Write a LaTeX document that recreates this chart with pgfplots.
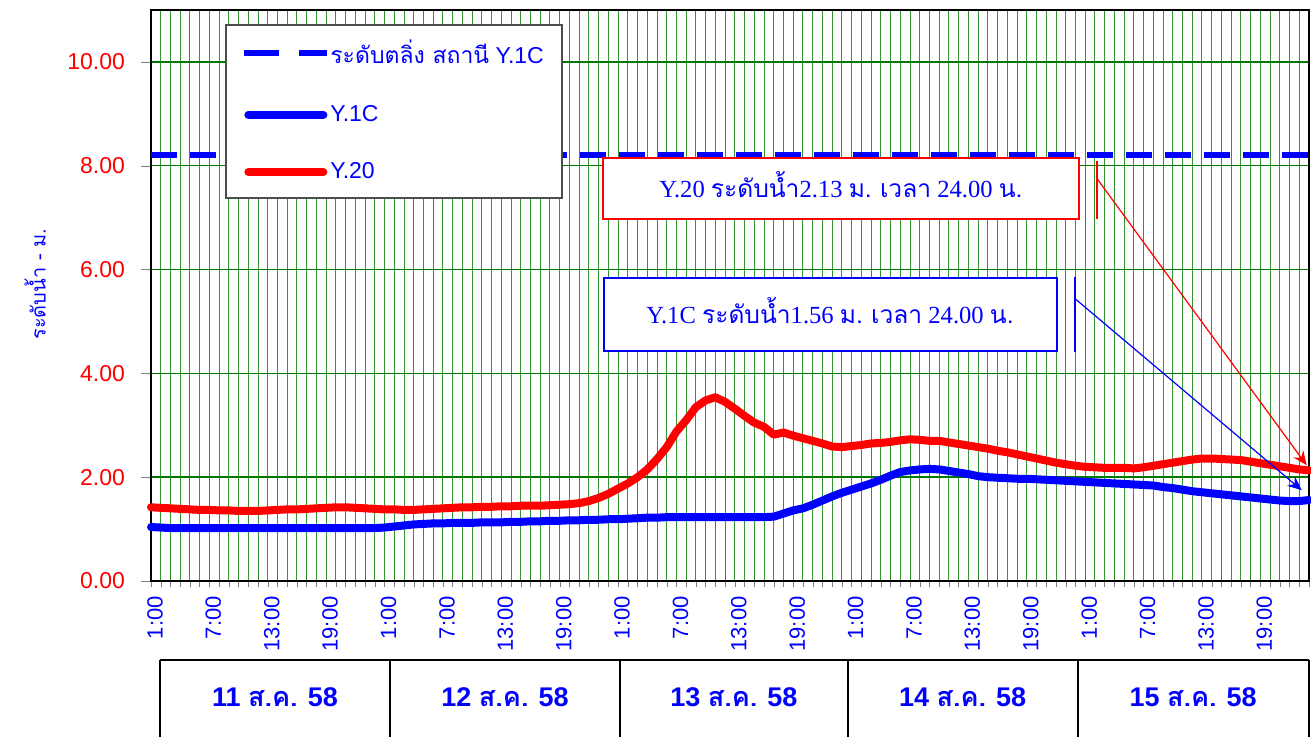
\documentclass[border=0pt]{standalone}
\usepackage{pgfplots}
\pgfplotsset{compat=1.18}
\usepackage{pgfplotstable}
\usetikzlibrary{arrows.meta}
\usepackage{fontspec}
\setmainfont{Liberation Sans}
\newfontfamily\thai[Script=Thai]{Loma}
\newfontfamily\serif{Liberation Serif}
\definecolor{gridgreen}{RGB}{50,150,50}
\definecolor{hgreen}{RGB}{0,120,0}
\definecolor{tblue}{RGB}{0,0,255}
\definecolor{tred}{RGB}{255,0,0}

\pgfplotstableread{
h y20 y1c
1 1.42 1.04
2 1.41 1.03
3 1.40 1.02
4 1.39 1.02
5 1.38 1.02
6 1.37 1.02
7 1.37 1.02
8 1.36 1.02
9 1.36 1.02
10 1.35 1.02
11 1.35 1.02
12 1.35 1.02
13 1.36 1.02
14 1.37 1.02
15 1.38 1.02
16 1.38 1.02
17 1.39 1.02
18 1.40 1.02
19 1.41 1.02
20 1.42 1.02
21 1.42 1.02
22 1.41 1.02
23 1.40 1.02
24 1.39 1.02
25 1.38 1.03
26 1.38 1.05
27 1.37 1.07
28 1.37 1.09
29 1.38 1.10
30 1.39 1.11
31 1.40 1.11
32 1.41 1.12
33 1.42 1.12
34 1.42 1.12
35 1.43 1.13
36 1.43 1.13
37 1.44 1.13
38 1.44 1.14
39 1.45 1.14
40 1.45 1.15
41 1.45 1.15
42 1.46 1.16
43 1.47 1.16
44 1.48 1.17
45 1.50 1.17
46 1.54 1.18
47 1.60 1.18
48 1.68 1.19
49 1.78 1.19
50 1.88 1.20
51 2.00 1.21
52 2.15 1.22
53 2.35 1.22
54 2.58 1.23
55 2.88 1.23
56 3.10 1.23
57 3.35 1.23
58 3.48 1.23
59 3.54 1.23
60 3.45 1.23
61 3.32 1.23
62 3.18 1.23
63 3.05 1.23
64 2.97 1.23
65 2.82 1.24
66 2.86 1.30
67 2.80 1.36
68 2.75 1.40
69 2.70 1.47
70 2.65 1.55
71 2.59 1.63
72 2.58 1.70
73 2.60 1.76
74 2.62 1.82
75 2.65 1.88
76 2.66 1.95
77 2.68 2.03
78 2.71 2.10
79 2.73 2.13
80 2.72 2.15
81 2.70 2.16
82 2.70 2.15
83 2.67 2.12
84 2.64 2.09
85 2.61 2.06
86 2.58 2.02
87 2.55 2.00
88 2.51 1.99
89 2.48 1.98
90 2.44 1.97
91 2.40 1.97
92 2.36 1.96
93 2.32 1.95
94 2.28 1.94
95 2.25 1.93
96 2.22 1.92
97 2.20 1.91
98 2.19 1.90
99 2.18 1.89
100 2.18 1.88
101 2.18 1.87
102 2.17 1.86
103 2.19 1.85
104 2.22 1.84
105 2.25 1.81
106 2.28 1.79
107 2.31 1.76
108 2.34 1.73
109 2.36 1.71
110 2.36 1.69
111 2.35 1.67
112 2.34 1.65
113 2.33 1.63
114 2.30 1.61
115 2.27 1.59
116 2.24 1.57
117 2.21 1.55
118 2.18 1.54
119 2.15 1.54
120 2.13 1.56
}\datatable

\pgfplotstableread{
h lvl
1 8.2
120 8.2
}\banktable

\begin{document}
\begin{tikzpicture}
\begin{axis}[
  at={(0,0)}, anchor=south west,
  scale only axis, width=579pt, height=285.5pt,
  xmin=1, xmax=120, ymin=0, ymax=11,
  clip=false,
  axis line style={line width=1pt, black},
  tick pos=left,
  tick align=outside,
  xtick={1,7,...,115},
  minor xtick={1,...,120},
  xticklabels={1:00,7:00,13:00,19:00,1:00,7:00,13:00,19:00,1:00,7:00,13:00,19:00,1:00,7:00,13:00,19:00,1:00,7:00,13:00,19:00},
  ytick={0,2,...,10},
  yticklabels={0.00,2.00,4.00,6.00,8.00,10.00},
  grid=both,
  major grid style={draw=gridgreen, line width=0.5pt},
  minor grid style={draw=gridgreen, line width=0.5pt},
  major y grid style={draw=hgreen, line width=0.7pt},
  major tick length=3pt, minor tick length=3pt,
  ytick style={/pgfplots/major tick length=5pt},
  xticklabel style={rotate=90, anchor=east, text=tblue, font=\fontsize{11}{12}\selectfont, inner sep=1pt, yshift=-2pt, xshift=-3.5pt},
  yticklabel style={text=tred, font=\fontsize{11.5}{13}\selectfont, xshift=-6.5pt},
  ylabel={\thai ระดับน้ำ - ม.},
  ylabel style={at={(axis description cs:-0.1,0.52)}, anchor=center, text=tblue, font=\fontsize{10}{12}\selectfont},
  legend style={at={(rel axis cs:0.0777,0.948)}, anchor=north west, draw=none, fill=none,
    row sep=19.2pt, inner sep=0pt,
    nodes={inner sep=0pt, text=tblue, font=\fontsize{11.5}{13}\selectfont}},
  legend cell align=left,
]
% bank level
\addplot[tblue, line width=3pt, dash pattern=on 13pt off 6.5pt,
  legend image code/.code={\draw[tblue, solid, line width=3pt] (0pt,0pt) -- (17.5pt,0pt) (27.5pt,0pt) -- (41.5pt,0pt);}]
  table[x=h, y=lvl] {\banktable};
\addlegendentry{{\thai ระดับตลิ่ง สถานี} Y.1C}
\addplot[tblue, line width=4pt, line cap=round, line join=round,
  legend image code/.code={\draw[tblue, line width=4pt, line cap=round] (2pt,0pt) -- (39.5pt,0pt);}]
  table[x=h, y=y1c] {\datatable};
\addlegendentry{Y.1C}
\addplot[tred, line width=4pt, line cap=round, line join=round,
  legend image code/.code={\draw[tred, line width=4pt, line cap=round] (2pt,0pt) -- (39.5pt,0pt);}]
  table[x=h, y=y20] {\datatable};
\addlegendentry{Y.20}

% legend frame
\draw[black!70, line width=0.8pt, fill=white] (rel axis cs:0.0648,0.9737) rectangle (rel axis cs:0.3549,0.6708);

% annotation boxes
\draw[tred, line width=1pt, fill=white] (axis cs:47.45,8.154) rectangle (axis cs:96.37,6.98);
\node[text=tblue, font=\fontsize{12.3}{14}\selectfont] at (axis cs:71.9,7.63)
  {\serif Y.20 {\thai ระดับน้ำ}2.13 {\thai ม.} {\thai เวลา} 24.00 {\thai น.}};
\draw[tblue, line width=1pt, fill=white] (axis cs:47.55,5.846) rectangle (axis cs:94.1,4.423);
\node[text=tblue, font=\fontsize{12.3}{14}\selectfont] at (axis cs:70.78,5.2)
  {\serif Y.1C {\thai ระดับน้ำ}1.56 {\thai ม.} {\thai เวลา} 24.00 {\thai น.}};

% leaders
\draw[tred, line width=0.8pt] (axis cs:98.22,8.10) -- (axis cs:98.22,6.98);
\draw[tred, line width=0.6pt, -{Stealth[length=7pt,width=6pt]}] (axis cs:98.22,7.75) -- (axis cs:119.76,2.23);
\draw[tblue, line width=0.8pt] (axis cs:95.95,5.85) -- (axis cs:95.95,4.42);
\draw[tblue, line width=0.6pt, -{Stealth[length=7pt,width=6pt]}] (axis cs:95.95,5.44) -- (axis cs:119.25,1.75);

% date boxes
\draw[black, line width=1pt] (axis cs:1.92,-1.52) -- (axis cs:120,-1.52);
\draw[black, line width=1pt] (axis cs:1.92,-1.52) -- (axis cs:1.92,-3.2);
\draw[black, line width=1pt] (axis cs:25.56,-1.52) -- (axis cs:25.56,-3.2);
\draw[black, line width=1pt] (axis cs:49.2,-1.52) -- (axis cs:49.2,-3.2);
\draw[black, line width=1pt] (axis cs:72.63,-1.52) -- (axis cs:72.63,-3.2);
\draw[black, line width=1pt] (axis cs:96.26,-1.52) -- (axis cs:96.26,-3.2);
\draw[black, line width=1pt] (axis cs:120,-1.52) -- (axis cs:120,-3.2);
\node[text=tblue, font=\bfseries\fontsize{13.5}{15}\selectfont] at (axis cs:13.74,-2.23) {11 {\thai\bfseries ส.ค.} 58};
\node[text=tblue, font=\bfseries\fontsize{13.5}{15}\selectfont] at (axis cs:37.38,-2.23) {12 {\thai\bfseries ส.ค.} 58};
\node[text=tblue, font=\bfseries\fontsize{13.5}{15}\selectfont] at (axis cs:60.9,-2.23) {13 {\thai\bfseries ส.ค.} 58};
\node[text=tblue, font=\bfseries\fontsize{13.5}{15}\selectfont] at (axis cs:84.4,-2.23) {14 {\thai\bfseries ส.ค.} 58};
\node[text=tblue, font=\bfseries\fontsize{13.5}{15}\selectfont] at (axis cs:108.1,-2.23) {15 {\thai\bfseries ส.ค.} 58};
\end{axis}
\pgfresetboundingbox
\path (-75.5pt,-77.5pt) rectangle (580pt,290.5pt);
\end{tikzpicture}
\end{document}
